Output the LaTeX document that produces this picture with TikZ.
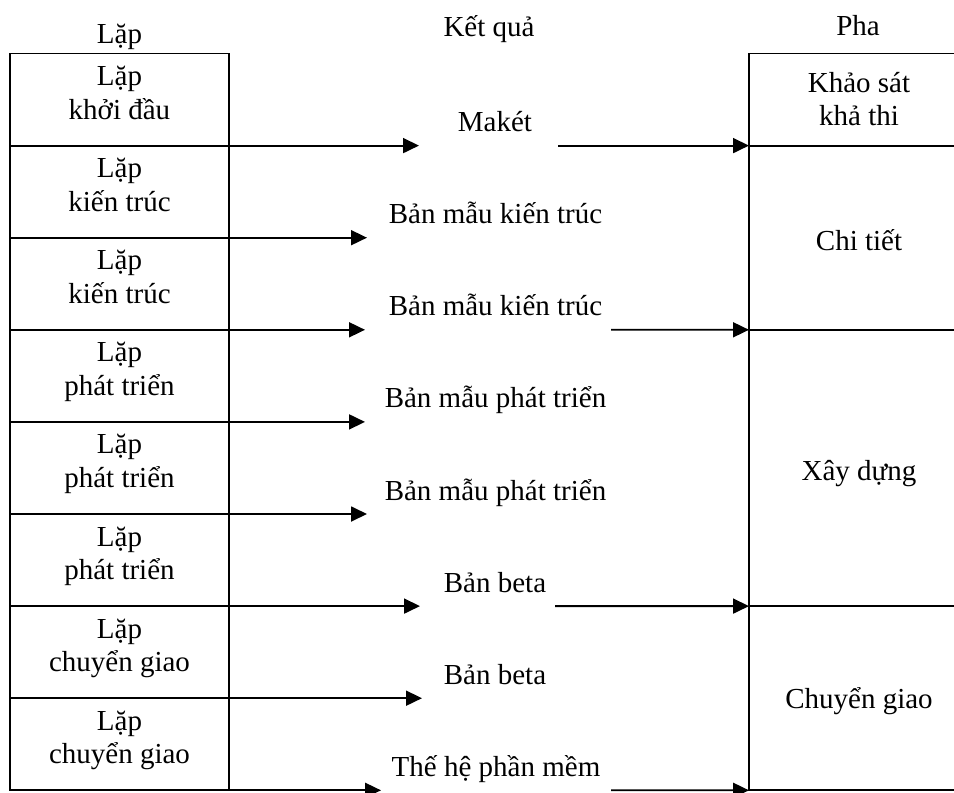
\documentclass[tikz,border=0pt]{standalone}
\usepackage{fontspec}
\setmainfont{Liberation Serif}
\usetikzlibrary{arrows.meta}
\begin{document}
\begin{tikzpicture}[x=1pt,y=-1pt,
  every node/.style={font=\fontsize{29}{33.5}\selectfont, inner sep=0pt, outer sep=0pt},
  cell/.style={draw, line width=1.8pt, minimum width=219pt, minimum height=92.1pt, anchor=north west},
  phase/.style={draw, line width=1.8pt, minimum width=219pt, anchor=north west},
  txt/.style={anchor=base, align=center},
  flow/.style={line width=1.8pt, -{Triangle[length=16pt,width=15pt]}},
]
\useasboundingbox (0,0) rectangle (954,793);
\clip (0,0) rectangle (954,793);

% column headings
\node[txt] (hL) at (119.5,43) {Lặp};
\node[txt] (hK) at (489,36) {Kết quả};
\node[txt] (hP) at (858,35) {Pha};

% iterations (left column); a two-line text sits on the baseline of its last line
\foreach \i/\t in {1/khởi đầu,2/kiến trúc,3/kiến trúc,4/phát triển,
                   5/phát triển,6/phát triển,7/chuyển giao,8/chuyển giao}{
  \node[cell] (L\i) at (10,{53.5+92.1*(\i-1)}) {};
  \node[txt] (T\i) at ([yshift=-65.5pt]L\i.north) {Lặp\\\t};
}

% phases (right column)
\node[phase, minimum height=92.1pt]  (R1) at (749,53.5)  {};
\node[phase, minimum height=184.2pt] (R2) at (749,145.6) {};
\node[phase, minimum height=276.3pt] (R3) at (749,329.8) {};
\node[phase, minimum height=184.2pt] (R4) at (749,606.1) {};
\node[txt] (P1) at (859,125.5) {Khảo sát\\khả thi};
\node[txt] (P2) at (859,250)   {Chi tiết};
\node[txt] (P3) at (859,480.7) {Xây dựng};
\node[txt] (P4) at (859,708)   {Chuyển giao};

% results (middle column)
\node[txt] (K1) at (495,131.6) {Makét};
\node[txt] (K2) at (495.5,223.7) {Bản mẫu kiến trúc};
\node[txt] (K3) at (495.5,315.8) {Bản mẫu kiến trúc};
\node[txt] (K4) at (495.5,407.9) {Bản mẫu phát triển};
\node[txt] (K5) at (495.5,500)   {Bản mẫu phát triển};
\node[txt] (K6) at (495,592.1)   {Bản beta};
\node[txt] (K7) at (495,684.2)   {Bản beta};
\node[txt] (K8) at (496,776.3)   {Thế hệ phần mềm};

% arrows from each iteration towards its result
\foreach \i/\x in {1/419,2/367,3/365,4/365,5/367,6/420,7/422,8/381}{
  \coordinate (e\i) at (\x,{53.5+92.1*\i});
  \draw[flow] (L\i.south east) -- (e\i);
}

% results that close a phase
\coordinate (s1) at (558,145.6);
\coordinate (s3) at (611,329.8);
\coordinate (s6) at (555,606.1);
\coordinate (s8) at (611,790.3);
\draw[flow] (s1) -- (R1.south west);
\draw[flow] (s3) -- (R2.south west);
\draw[flow] (s6) -- (R3.south west);
\draw[flow] (s8) -- (R4.south west);
\end{tikzpicture}
\end{document}
